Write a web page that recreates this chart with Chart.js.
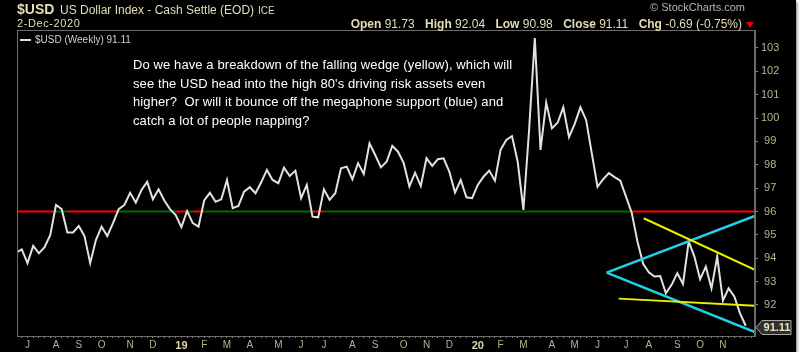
<!DOCTYPE html>
<html>
<head>
<meta charset="utf-8">
<script src="https://cdn.jsdelivr.net/npm/chart.js@4.4.0/dist/chart.umd.min.js"></script>
<style>
  html, body { margin: 0; padding: 0; background: #fff; }
  #wrap { position: relative; width: 796px; height: 352px; background: #000; overflow: hidden;
          box-shadow: 1px 2px 3px rgba(0,0,0,0.55); font-family: Arial, "Liberation Sans", sans-serif; }
  #wrap canvas { position: absolute; left: 0; top: 0; }
  .t { position: absolute; white-space: nowrap; color: #e4ddb6; }
  #sym { left: 17px; top: 1px; font-size: 14px; font-weight: bold; }
  #name { left: 60px; top: 3px; font-size: 12px; }
  #exch { left: 258px; top: 5px; font-size: 10px; }
  #date { left: 17px; top: 17px; font-size: 11px; letter-spacing: 0.6px; }
  #copy { right: 51px; top: 1px; font-size: 11px; color: #b5b5b5; }
  #quote { right: 54px; top: 17px; font-size: 12px; }
  #quote b { margin-left: 7px; }
  #tri { position: absolute; left: 746px; top: 22px; width: 0; height: 0;
         border-left: 4px solid transparent; border-right: 4px solid transparent; border-top: 6px solid #e00; }
  #legend { left: 20px; top: 34px; font-size: 10px; color: #d0d0d0; }
  #legend i { display: inline-block; width: 11px; height: 2px; background: #e0e0e0; vertical-align: middle; margin-right: 4px; }
  #note { left: 133px; top: 56px; font-size: 13px; line-height: 18.5px; letter-spacing: 0.1px; color: #fff; }
</style>
</head>
<body>
<div id="wrap">
  <canvas id="c"></canvas>
  <div class="t" id="sym">$USD</div>
  <div class="t" id="name">US Dollar Index - Cash Settle (EOD)</div>
  <div class="t" id="exch">ICE</div>
  <div class="t" id="date">2-Dec-2020</div>
  <div class="t" id="copy">&copy; StockCharts.com</div>
  <div class="t" id="quote"></div>
  <div id="tri"></div>
  <div class="t" id="legend"><i></i><span id="legtxt"></span></div>
  <div class="t" id="note">Do we have a breakdown of the falling wedge (yellow), which will<br>see the USD head into the high 80's driving risk assets even<br>higher?&nbsp; Or will it bounce off the megaphone support (blue) and<br>catch a lot of people napping?</div>
</div>
<script>
// weekly closes, first week starts Mon 18-Jun-2018
const firstWeek = Date.UTC(2018, 5, 18);
const usd = [
  94.24, 94.38, 93.79, 94.53, 94.21, 94.47, 95.0, 96.28, 96.1, 95.1,
  95.1, 95.38, 94.95, 93.79, 94.78, 95.35, 94.95, 95.5, 96.1, 96.28,
  96.8, 96.38, 96.92, 97.27, 96.52, 96.95, 96.47, 96.1, 95.85, 95.33,
  96.02, 95.5, 95.35, 96.47, 96.8, 96.42, 96.52, 97.35, 96.14, 96.24,
  96.85, 97.04, 96.78, 97.25, 97.78, 97.35, 97.21, 97.88, 97.52, 97.75,
  96.57, 97.14, 95.78, 95.75, 96.95, 96.5, 96.78, 97.85, 97.92, 97.38,
  98.07, 97.61, 98.92, 98.42, 97.89, 98.13, 98.81, 98.56, 98.07, 97.07,
  97.66, 97.09, 98.28, 97.95, 98.24, 98.28, 97.71, 96.81, 97.35, 96.61,
  96.57, 97.14, 97.49, 97.75, 97.32, 98.64, 99.06, 99.23, 98.13, 96.07,
  99.5, 103.42, 98.64, 100.66, 99.56, 99.8, 100.46, 99.18, 99.75, 100.46,
  99.92, 98.49, 97.06, 97.38, 97.64, 97.47, 97.32, 96.64, 95.95, 94.72,
  93.76, 93.4, 93.22, 93.24, 92.5, 92.86, 93.36, 92.9, 94.71, 94.07,
  93.1, 93.64, 92.71, 94.07, 92.18, 92.71, 92.36, 91.64, 91.11
];
const level = 96;
// hand-drawn trend lines: [week, value]
const wedgeTop = [[110.1, 95.71], [129.8, 93.48]];
const wedgeBottom = [[105.7, 92.27], [129.8, 91.96]];
const megaTop = [[103.6, 93.38], [129.8, 95.83]];
const megaBottom = [[103.6, 93.38], [129.8, 90.82]];

const monthLetters = ['J', 'F', 'M', 'A', 'M', 'J', 'J', 'A', 'S', 'O', 'N', 'D'];
const yTicks = [92, 93, 94, 95, 96, 97, 98, 99, 100, 101, 102, 103];
const quote = [['Open', '91.73'], ['High', '92.04'], ['Low', '90.98'], ['Close', '91.11'], ['Chg', '-0.69 (-0.75%)']];

const xMin = 0.16, xMax = 129.63;
const yMin = 90.67, yMax = 103.77;

document.getElementById('quote').innerHTML =
  quote.map(q => '<b>' + q[0] + '</b> ' + q[1]).join(' ');
document.getElementById('legtxt').textContent = '$USD (Weekly) ' + usd[usd.length - 1].toFixed(2);

function weekDate(j) {
  return new Date(firstWeek + j * 7 * 86400000);
}
function monthLabel(j) {
  if (j >= usd.length) return '';
  let d = weekDate(j), p = weekDate(j - 1);
  if (d.getUTCMonth() === p.getUTCMonth()) return '';
  return d.getUTCMonth() === 0 ? String(d.getUTCFullYear()).slice(2) : monthLetters[d.getUTCMonth()];
}
function isYear(c) {
  return !!(c && c.tick) && /\d/.test(monthLabel(c.tick.value));
}

// horizontal 96 line, split at each week so it can be coloured
let levelPts = [{x: xMin, y: level}];
usd.forEach((v, j) => { if (j > xMin) levelPts.push({x: j, y: level}); });
levelPts.push({x: xMax, y: level});

function priceBefore(x) {
  let i = Math.max(0, Math.min(usd.length - 1, Math.floor(x)));
  return usd[i];
}

const pairs = a => a.map(p => ({x: p[0], y: p[1]}));

const tagPlugin = {
  id: 'tag',
  afterDraw(chart) {
    const {ctx, chartArea: a, scales: {y}} = chart;
    ctx.save();
    ctx.strokeStyle = '#6c6c6c';
    ctx.lineWidth = 1;
    ctx.strokeRect(a.left + 0.5, a.top + 0.5, a.right - a.left - 1, a.bottom - a.top);

    let last = usd[usd.length - 1];
    let py = Math.round(y.getPixelForValue(last)) + 1.5;
    let x0 = a.right + 1;
    ctx.beginPath();
    ctx.moveTo(x0, py);
    ctx.lineTo(x0 + 6, py - 7);
    ctx.lineTo(x0 + 35, py - 7);
    ctx.lineTo(x0 + 35, py + 7);
    ctx.lineTo(x0 + 6, py + 7);
    ctx.closePath();
    ctx.fillStyle = '#303030';
    ctx.fill();
    ctx.strokeStyle = '#a8a8a8';
    ctx.stroke();
    ctx.fillStyle = '#ece4c0';
    ctx.font = 'bold 11px Arial';
    ctx.textAlign = 'center';
    ctx.textBaseline = 'middle';
    ctx.fillText(last.toFixed(2), x0 + 21, py + 0.5);
    ctx.restore();
  }
};

new Chart(document.getElementById('c'), {
  type: 'line',
  data: {
    datasets: [
      {
        data: usd.map((v, j) => ({x: j, y: v})),
        borderColor: '#e2e2e2',
        borderWidth: 2,
        pointRadius: 0,
        tension: 0,
        order: 1
      },
      {
        data: levelPts,
        borderWidth: 2,
        pointRadius: 0,
        borderColor: '#ff0000',
        segment: {
          borderColor: c => priceBefore(c.p0.parsed.x) >= level ? '#006a00' : '#ff0000'
        },
        order: 2
      },
      { data: pairs(wedgeTop), borderColor: '#eeee00', borderWidth: 2, pointRadius: 0, order: 0 },
      { data: pairs(wedgeBottom), borderColor: '#eeee00', borderWidth: 2, pointRadius: 0, order: 0 },
      { data: pairs(megaTop), borderColor: '#1fd3e6', borderWidth: 2.5, pointRadius: 0, order: 0 },
      { data: pairs(megaBottom), borderColor: '#1fd3e6', borderWidth: 2.5, pointRadius: 0, order: 0 }
    ]
  },
  options: {
    responsive: true,
    maintainAspectRatio: false,
    animation: false,
    events: [],
    layout: { padding: { left: 17, top: 30, right: 0, bottom: 0 } },
    plugins: {
      legend: { display: false },
      tooltip: { enabled: false }
    },
    scales: {
      x: {
        type: 'linear',
        min: xMin,
        max: xMax,
        afterBuildTicks: s => {
          let t = [];
          for (let j = Math.ceil(xMin); j <= xMax; j++) t.push({value: j});
          s.ticks = t;
        },
        afterFit: s => { s.height = 16; },
        grid: { drawOnChartArea: false, drawTicks: true, tickLength: 2, color: '#8a8a8a' },
        border: { color: '#6c6c6c' },
        ticks: {
          autoSkip: false,
          maxRotation: 0,
          minRotation: 0,
          padding: 1,
          callback: v => monthLabel(v),
          color: c => isYear(c) ? '#e0d8ac' : '#b9b28e',
          font: c => ({ family: 'Arial', size: isYear(c) ? 11 : 10, weight: isYear(c) ? 'bold' : 'normal' })
        }
      },
      y: {
        position: 'right',
        min: yMin,
        max: yMax,
        afterBuildTicks: s => { s.ticks = yTicks.map(v => ({value: v})); },
        afterFit: s => { s.width = 41; },
        grid: { drawOnChartArea: false, drawTicks: true, tickLength: 3, color: '#8a8a8a' },
        border: { color: '#6c6c6c' },
        ticks: {
          crossAlign: 'center',
          padding: 3,
          color: '#b9b28e',
          font: { family: 'Arial', size: 11 }
        }
      }
    }
  },
  plugins: [tagPlugin]
});
</script>
</body>
</html>
